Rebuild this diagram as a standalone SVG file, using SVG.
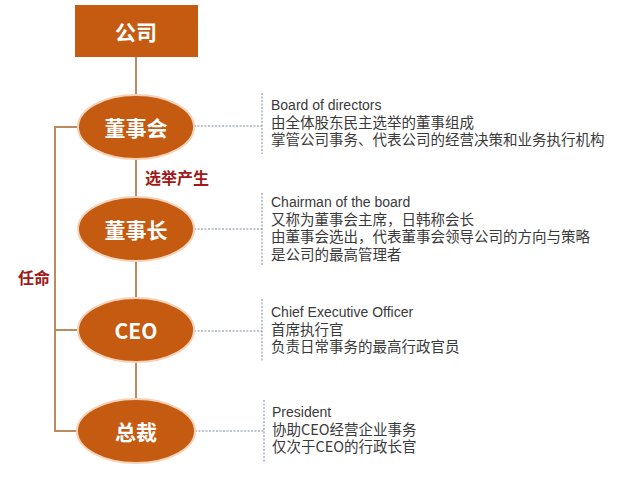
<svg xmlns="http://www.w3.org/2000/svg" width="633" height="488" viewBox="0 0 633 488">
<style>
.node{fill:#C55A11;stroke:#F6D2B8;stroke-width:2}
.ntext{fill:#FFFFFF;font-family:"Noto Sans CJK SC","Liberation Sans",sans-serif;font-weight:bold;font-size:21px;text-anchor:middle;dominant-baseline:central}
.conn{stroke:#BC8A5F;stroke-width:2;fill:none}
.dash{stroke:#7F8AA0;stroke-width:1;stroke-dasharray:2 1.5;fill:none}
.lbl{fill:#A01818;font-family:"Noto Sans CJK SC",sans-serif;font-weight:bold;font-size:16px}
.desc{fill:#3A3A3A;font-family:"Liberation Sans","Noto Sans CJK SC",sans-serif;font-size:14px}
.cn{font-family:"Noto Sans CJK SC",sans-serif;font-size:14.5px}
</style>
<rect width="633" height="488" fill="#FFFFFF"/>
<g id="connectors">
<line class="conn" x1="136" y1="57" x2="136" y2="95"/>
<line class="conn" x1="136" y1="159" x2="136" y2="198"/>
<line class="conn" x1="136" y1="261" x2="136" y2="298"/>
<line class="conn" x1="136" y1="363" x2="136" y2="399"/>
<polyline class="conn" points="78,127 55,127 55,431 78,431"/>
<line class="conn" x1="55" y1="330" x2="78" y2="330"/>
<line class="dash" x1="194" y1="126" x2="262" y2="126"/>
<line class="dash" x1="262" y1="93" x2="262" y2="154"/>
<line class="dash" x1="194" y1="229" x2="262" y2="229"/>
<line class="dash" x1="262" y1="193" x2="262" y2="265"/>
<line class="dash" x1="194" y1="331" x2="262" y2="331"/>
<line class="dash" x1="262" y1="299" x2="262" y2="361"/>
<line class="dash" x1="195" y1="431" x2="264" y2="431"/>
<line class="dash" x1="264" y1="400" x2="264" y2="462"/>
<text class="lbl" x="145" y="184">选举产生</text>
<text class="lbl" x="18" y="284">任命</text>
</g>
<g id="company">
<rect x="75" y="5" width="123" height="52" fill="#C55A11"/>
<text class="ntext" x="136" y="31">公司</text>
</g>
<g id="board">
<ellipse class="node" cx="136" cy="127" rx="58" ry="32"/>
<text class="ntext" x="136" y="127">董事会</text>
<text class="desc" x="271" y="110"><tspan>Board of directors</tspan><tspan class="cn" x="271" dy="17.5">由全体股东民主选举的董事组成</tspan><tspan class="cn" x="271" dy="17.5">掌管公司事务、代表公司的经营决策和业务执行机构</tspan></text>
</g>
<g id="chairman">
<ellipse class="node" cx="136" cy="229" rx="58" ry="32"/>
<text class="ntext" x="136" y="229">董事长</text>
<text class="desc" x="271" y="207"><tspan>Chairman of the board</tspan><tspan class="cn" x="271" dy="17.5">又称为董事会主席，日韩称会长</tspan><tspan class="cn" x="271" dy="17.5">由董事会选出，代表董事会领导公司的方向与策略</tspan><tspan class="cn" x="271" dy="17.5">是公司的最高管理者</tspan></text>
</g>
<g id="ceo">
<ellipse class="node" cx="136" cy="330" rx="58" ry="32"/>
<text class="ntext" x="136" y="330">CEO</text>
<text class="desc" x="271" y="317"><tspan>Chief Executive Officer</tspan><tspan class="cn" x="271" dy="17.5">首席执行官</tspan><tspan class="cn" x="271" dy="17.5">负责日常事务的最高行政官员</tspan></text>
</g>
<g id="president">
<ellipse class="node" cx="136" cy="431" rx="59" ry="32"/>
<text class="ntext" x="136" y="431">总裁</text>
<text class="desc" x="272" y="417"><tspan>President</tspan><tspan class="cn" x="272" dy="17.5">协助CEO经营企业事务</tspan><tspan class="cn" x="272" dy="17.5">仅次于CEO的行政长官</tspan></text>
</g>
</svg>
